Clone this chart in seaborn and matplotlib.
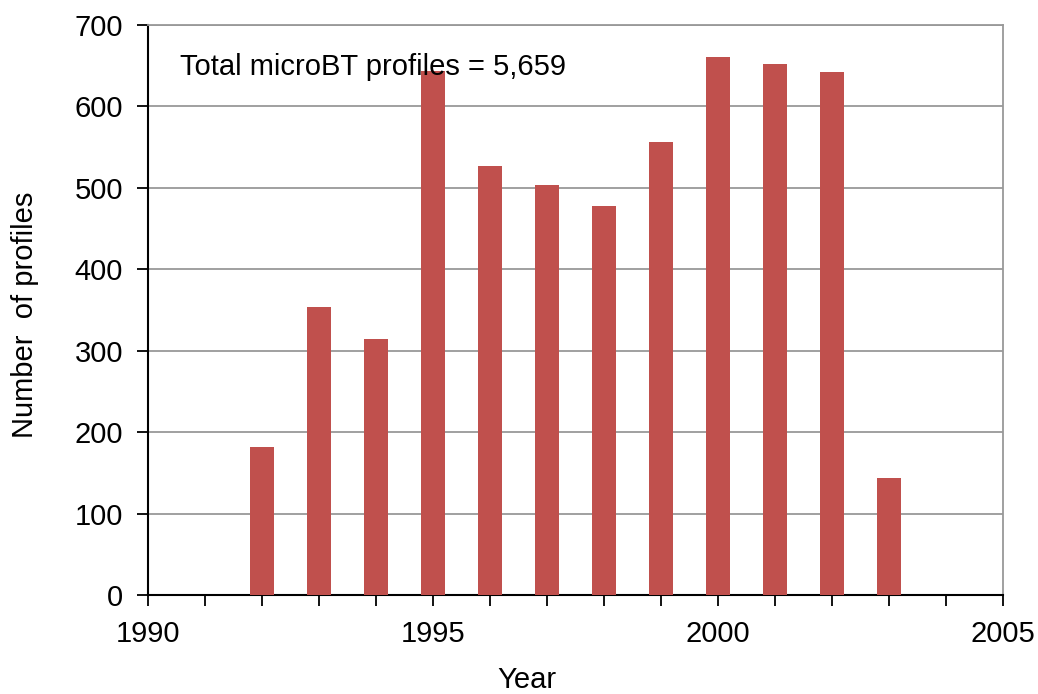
import pandas as pd
import matplotlib.pyplot as plt
import seaborn as sns
from matplotlib.ticker import MultipleLocator

# ---------- Data ----------
years = [1992, 1993, 1994, 1995, 1996, 1997, 1998, 1999, 2000, 2001, 2002, 2003]
profiles = [182, 354, 314, 643, 527, 503, 478, 556, 661, 652, 642, 144]

df = pd.DataFrame({"Year": years, "Profiles": profiles})

sns.set_style("white")
plt.rcParams["font.family"] = ["Liberation Sans", "DejaVu Sans"]
plt.rcParams["text.color"] = "black"
plt.rcParams["axes.labelcolor"] = "black"
plt.rcParams["xtick.color"] = "black"
plt.rcParams["ytick.color"] = "black"

fig = plt.figure(figsize=(10.38, 6.94), dpi=100)
ax = fig.add_axes([148 / 1038, 1 - 595 / 694, 855 / 1038, 570 / 694])

sns.barplot(
    data=df,
    x="Year",
    y="Profiles",
    native_scale=True,
    width=0.42,
    color="#C0504D",
    saturation=1,
    edgecolor="none",
    ax=ax,
    zorder=3,
)

ax.set_xlim(1990, 2005)
ax.set_ylim(0, 700)
ax.xaxis.set_major_locator(MultipleLocator(5))
ax.xaxis.set_minor_locator(MultipleLocator(1))
ax.yaxis.set_major_locator(MultipleLocator(100))

ax.grid(axis="y", color="#999999", linewidth=1.3, zorder=0)
ax.set_axisbelow(True)

for side in ["top", "right"]:
    ax.spines[side].set_color("#999999")
    ax.spines[side].set_linewidth(1.3)
for side in ["left", "bottom"]:
    ax.spines[side].set_color("black")
    ax.spines[side].set_linewidth(1.5)

ax.tick_params(axis="both", which="both", direction="out", length=8, width=1.3,
               color="black", labelsize=21, bottom=True, left=True)
ax.tick_params(axis="x", which="major", pad=10)
ax.tick_params(axis="y", which="major", pad=10)

ax.set_xlabel("Year", fontsize=21)
ax.set_ylabel("Number  of profiles", fontsize=21)
ax.xaxis.set_label_coords(0.443, -0.149)
ax.yaxis.set_label_coords(-0.144, 0.491)
ax.xaxis.label.set_va("center")
ax.yaxis.label.set_va("center")

ax.text(0.037, 0.926, "Total microBT profiles = 5,659", transform=ax.transAxes,
        fontsize=21, va="center", ha="left")

fig.savefig("out.png", dpi=100)
